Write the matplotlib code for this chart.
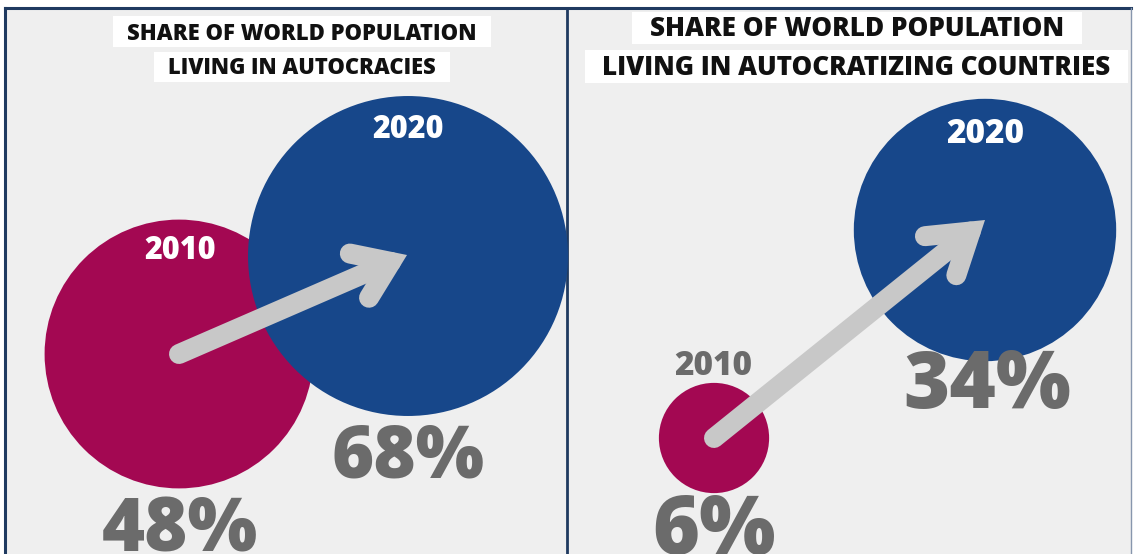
import matplotlib
matplotlib.use("Agg")
import matplotlib.pyplot as plt
import numpy as np
from matplotlib.patches import Circle, Rectangle

# data: share of world population (%)
years = ["2010", "2020"]
autocracy_share = [48, 68]
autocratizing_share = [6, 34]
panel_titles = [
    ["SHARE OF WORLD POPULATION", "LIVING IN AUTOCRACIES"],
    ["SHARE OF WORLD POPULATION", "LIVING IN AUTOCRATIZING COUNTRIES"],
]

MAGENTA = "#a30852"
BLUE = "#17478a"
ARROW = "#c8c8c8"
NUM_GREY = "#6b6b6b"
FRAME = "#1f3a60"
BG = "#efefef"
FONT = "Open Sans"

W, H = 1137, 554

# layout in pixel coordinates (y down)
panels = [
    dict(values=autocracy_share, titles=panel_titles[0],
         centers=[(179, 354), (408, 256)], scale=19.4, tip=(407, 255),
         half_angle=35, arm=42,
         boxes=[(113, 16, 491, 47), (154, 52, 450, 82)], baselines=[40, 74], pad=14,
         year_pos=[(180, 259), (408, 138)], year_colors=["white", "white"], year_size=22,
         value_pos=[(180, 552), (408, 477)], value_sizes=[53, 52]),
    dict(values=autocratizing_share, titles=panel_titles[1],
         centers=[(714, 438), (985, 230)], scale=22.5, tip=(985, 220),
         half_angle=33, arm=46,
         boxes=[(632, 12, 1082, 44), (585, 50, 1128, 83)], baselines=[36, 75], pad=17,
         year_pos=[(713, 375), (985, 143)], year_colors=[NUM_GREY, "white"], year_size=24,
         value_pos=[(714, 554), (987, 408)], value_sizes=[58, 57]),
]


def draw_arrow(ax, tail, tip, half_angle, arm, width_px=20):
    tail = np.asarray(tail, float)
    tip = np.asarray(tip, float)
    d = (tip - tail) / np.linalg.norm(tip - tail)
    # pull the vertex back so the mitred point lands on the tip
    vertex = tip - d * (width_px / 2) / np.sin(np.radians(half_angle))
    back = -d
    ends = []
    for a in (half_angle, -half_angle):
        t = np.radians(a)
        r = np.array([back[0] * np.cos(t) - back[1] * np.sin(t),
                      back[0] * np.sin(t) + back[1] * np.cos(t)])
        ends.append(vertex + arm * r)
    lw = width_px * 72 / 100
    ax.plot([tail[0], vertex[0]], [tail[1], vertex[1]], color=ARROW, lw=lw,
            solid_capstyle="round", zorder=4)
    ax.plot([ends[0][0], vertex[0], ends[1][0]], [ends[0][1], vertex[1], ends[1][1]],
            color=ARROW, lw=lw, solid_capstyle="round", solid_joinstyle="miter", zorder=4)


fig = plt.figure(figsize=(W / 100, H / 100), dpi=100)
fig.patch.set_facecolor("white")
ax = fig.add_axes([0, 0, 1, 1])
ax.set_xlim(0, W)
ax.set_ylim(H, 0)
ax.axis("off")
renderer = fig.canvas.get_renderer()

# panel background and frame
ax.add_patch(Rectangle((5, 8), 1126, H, facecolor=BG, edgecolor="none", zorder=0))
ax.plot([5, 1131], [8, 8], color=FRAME, lw=2.2, zorder=1)
ax.plot([5, 5], [8, H], color=FRAME, lw=2.2, zorder=1)
ax.plot([567, 567], [8, H], color=FRAME, lw=2.0, zorder=1)
ax.plot([1131, 1131], [8, H], color="#8796ad", lw=1.0, zorder=1)

for p in panels:
    # title boxes, text fitted to the box width
    for text, (x0, y0, x1, y1), base in zip(p["titles"], p["boxes"], p["baselines"]):
        ax.add_patch(Rectangle((x0, y0), x1 - x0, y1 - y0, facecolor="white",
                               edgecolor="none", zorder=2))
        t = ax.text((x0 + x1) / 2, base, text, ha="center", va="baseline",
                    fontsize=16, fontweight="heavy", family=FONT, color="#111111", zorder=3)
        w = t.get_window_extent(renderer).width
        t.set_fontsize(16 * (x1 - x0 - 2 * p["pad"]) / w)

    # bubbles: area proportional to the share
    colors = [MAGENTA, BLUE]
    for i, v in enumerate(p["values"]):
        r = p["scale"] * np.sqrt(v)
        ax.add_patch(Circle(p["centers"][i], r, facecolor=colors[i], edgecolor="none", zorder=2 + i * 0.1))

    draw_arrow(ax, p["centers"][0], p["tip"], p["half_angle"], p["arm"])

    for i, v in enumerate(p["values"]):
        yx, yy = p["year_pos"][i]
        ax.text(yx, yy, years[i], ha="center", va="baseline", fontsize=p["year_size"],
                fontweight="heavy", family=FONT, color=p["year_colors"][i], zorder=5)
        vx, vy = p["value_pos"][i]
        ax.text(vx, vy, f"{v}%", ha="center", va="baseline", fontsize=p["value_sizes"][i],
                fontweight="heavy", family=FONT, color=NUM_GREY, zorder=5)

fig.savefig("out.png", dpi=100, facecolor="white")
